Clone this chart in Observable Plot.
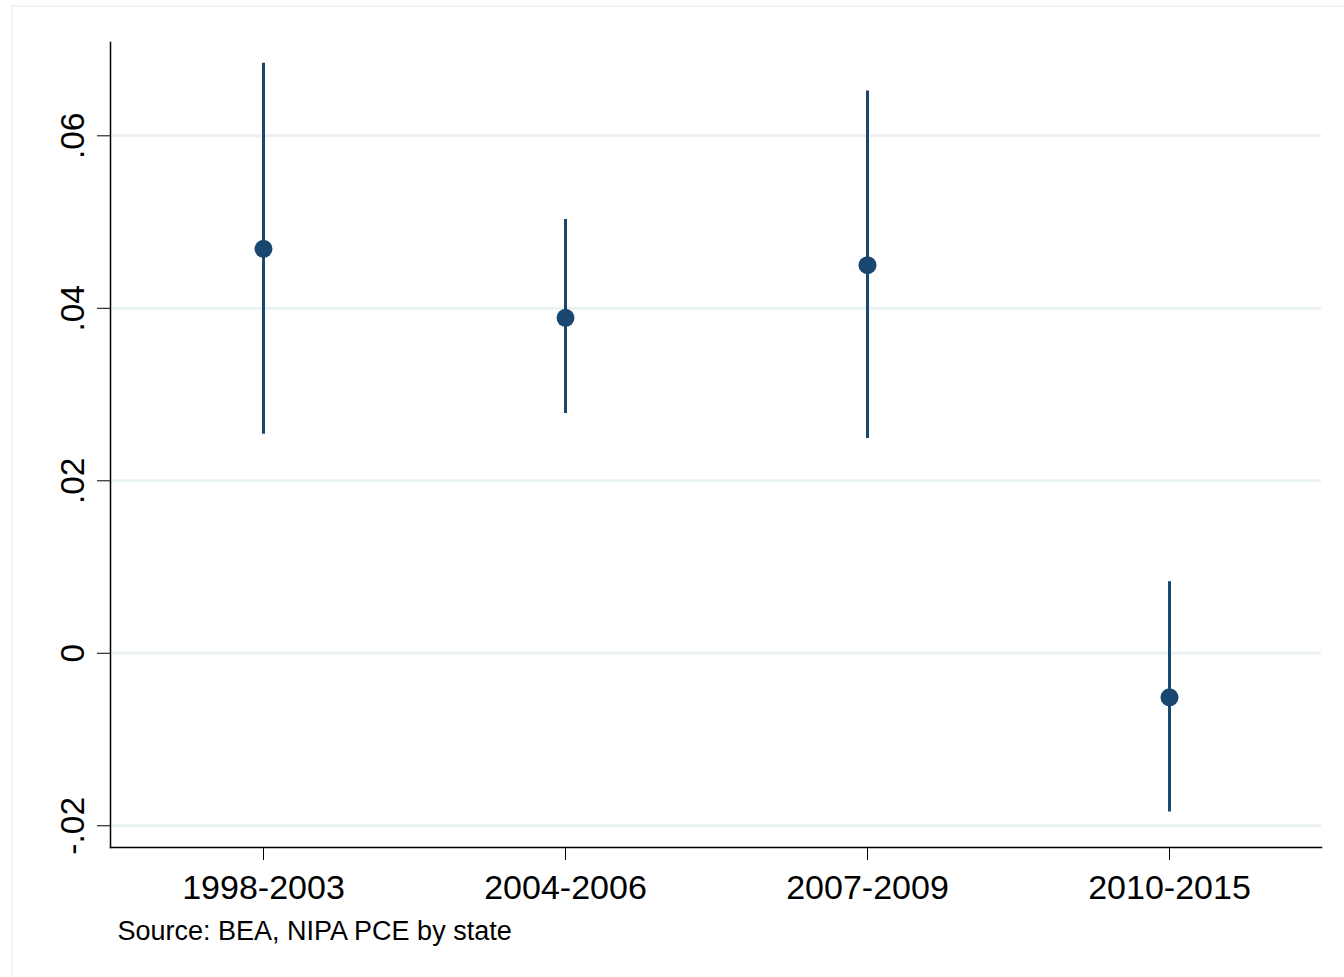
<!DOCTYPE html>
<html>
<head>
<meta charset="utf-8">
<script src="https://cdn.jsdelivr.net/npm/d3@7"></script>
<script src="https://cdn.jsdelivr.net/npm/@observablehq/plot@0.6"></script>
<style>
  html, body { margin: 0; padding: 0; background: #fff; }
  #wrap { position: relative; width: 1344px; height: 977px; overflow: hidden; }
  #border { position: absolute; left: 11px; top: 5px; width: 1400px; height: 1100px;
            border-top: 2px solid #eef3f5; border-left: 2px solid #f3f6f7; box-sizing: border-box; }
  #chart { position: absolute; left: 0; top: 0; }
</style>
</head>
<body>
<div id="wrap"><div id="border"></div><div id="chart"></div></div>
<script>
const periods = ["1998-2003", "2004-2006", "2007-2009", "2010-2015"];
const estimate = [0.0469, 0.0389, 0.0450, -0.0051];
const ciLow = [0.0254, 0.0278, 0.0249, -0.0184];
const ciHigh = [0.0684, 0.0503, 0.0652, 0.0083];
const yTicks = [-0.02, 0, 0.02, 0.04, 0.06];
const yTickLabels = ["-.02", "0", ".02", ".04", ".06"];
const caption = "Source: BEA, NIPA PCE by state";

const data = periods.map((p, i) => ({period: p, est: estimate[i], lo: ciLow[i], hi: ciHigh[i]}));
const navy = "#1a476f";
const grid = "#eaf2f3";

const chart = Plot.plot({
  width: 1344,
  height: 977,
  marginLeft: 110,
  marginRight: 23,
  marginTop: 42,
  marginBottom: 130,
  style: {fontFamily: "'Liberation Sans', Arial, sans-serif", background: "transparent"},
  x: {type: "point", domain: periods, padding: 0.5},
  y: {domain: [-0.02252, 0.07082]},
  marks: [
    Plot.ruleY(yTicks, {stroke: grid, strokeWidth: 3}),
    Plot.frame({anchor: "left", stroke: "#000", strokeWidth: 1.5}),
    Plot.frame({anchor: "bottom", stroke: "#000", strokeWidth: 1.5}),
    Plot.axisY({
      ticks: yTicks,
      tickFormat: d => yTickLabels[yTicks.indexOf(d)],
      tickSize: 13,
      tickPadding: 14,
      tickRotate: -90,
      fontSize: 33.5,
      fill: "#000",
      stroke: "#000",
      label: null
    }),
    Plot.axisX({
      tickSize: 13,
      tickPadding: 14,
      fontSize: 34,
      fill: "#000",
      label: null
    }),
    Plot.ruleX(data, {x: "period", y1: "lo", y2: "hi", stroke: navy, strokeWidth: 3}),
    Plot.dot(data, {x: "period", y: "est", r: 9, fill: navy, stroke: null}),
    Plot.text([caption], {frameAnchor: "bottom-left", dx: 7, dy: 92, lineAnchor: "bottom",
      textAnchor: "start", fontSize: 27, fill: "#000"})
  ]
});
document.getElementById("chart").appendChild(chart);
</script>
</body>
</html>
